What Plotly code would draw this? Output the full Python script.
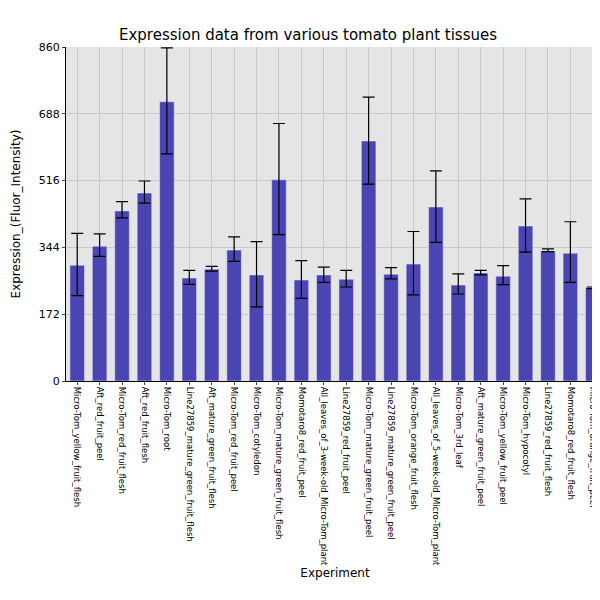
import plotly.graph_objects as go

# Données
experiments = [
    "Micro-Tom_yellow_fruit_flesh", "Aft_red_fruit_peel", "Micro-Tom_red_fruit_flesh",
    "Aft_red_fruit_flesh", "Micro-Tom_root", "Line27859_mature_green_fruit_flesh",
    "Aft_mature_green_fruit_flesh", "Micro-Tom_red_fruit_peel", "Micro-Tom_cotyledon",
    "Micro-Tom_mature_green_fruit_flesh", "Momotaro8_red_fruit_peel",
    "All_leaves_of_3-week-old_Micro-Tom_plant", "Line27859_red_fruit_peel",
    "Micro-Tom_mature_green_fruit_peel", "Line27859_mature_green_fruit_peel",
    "Micro-Tom_orange_fruit_flesh", "All_leaves_of_5-week-old_Micro-Tom_plant",
    "Micro-Tom_3rd_leaf", "Aft_mature_green_fruit_peel", "Micro-Tom_yellow_fruit_peel",
    "Micro-Tom_hypocotyl", "Line27859_red_fruit_flesh", "Momotaro8_red_fruit_flesh",
    "Micro-Tom_orange_fruit_peel",
]
expression = [298, 347, 438, 484, 719, 265, 288, 337, 273, 518, 260, 273,
              262, 618, 275, 301, 448, 247, 278, 270, 399, 335, 329, 240]
err_low = [220, 321, 420, 458, 585, 249, 283, 308, 191, 377, 213, 254,
           242, 507, 263, 222, 357, 224, 273, 248, 332, 333, 254, 238]
err_high = [380, 379, 462, 515, 858, 285, 295, 371, 359, 663, 310, 293,
            285, 731, 292, 385, 541, 276, 285, 297, 469, 340, 410, 242]

plus = [h - v for h, v in zip(err_high, expression)]
minus = [v - l for l, v in zip(err_low, expression)]

fig = go.Figure(go.Bar(
    x=experiments, y=expression,
    marker=dict(color="#4b45b3"),
    error_y=dict(type="data", symmetric=False, array=plus, arrayminus=minus,
                 color="black", thickness=1.2, width=6),
))

fig.update_layout(
    width=600, height=600,
    title=dict(text="Expression data from various tomato plant tissues", x=0.5, y=0.965,
               font=dict(size=15, color="black")),
    font=dict(family="DejaVu Sans", color="black"),
    plot_bgcolor="#e5e5e5", paper_bgcolor="white",
    margin=dict(l=58, r=4, t=39, b=227),
    showlegend=False, bargap=0.35,
)
fig.update_xaxes(title_text="Experiment", title_font=dict(size=12), title_standoff=0,
                 tickangle=90, automargin=False,
                 tickfont=dict(size=8.5), showgrid=True, gridcolor="#c8c8c8",
                 showline=True, linecolor="black", linewidth=1, ticks="outside", ticklen=3)
fig.update_yaxes(title_text="Expression_(Fluor_Intensity)", title_font=dict(size=12),
                 automargin=False,
                 range=[0, 860], tickvals=[0, 172, 344, 516, 688, 860],
                 tickfont=dict(size=11), gridcolor="#c8c8c8", zeroline=False,
                 showline=True, linecolor="black", linewidth=1, ticks="outside", ticklen=3)

fig.write_html("out.html")
